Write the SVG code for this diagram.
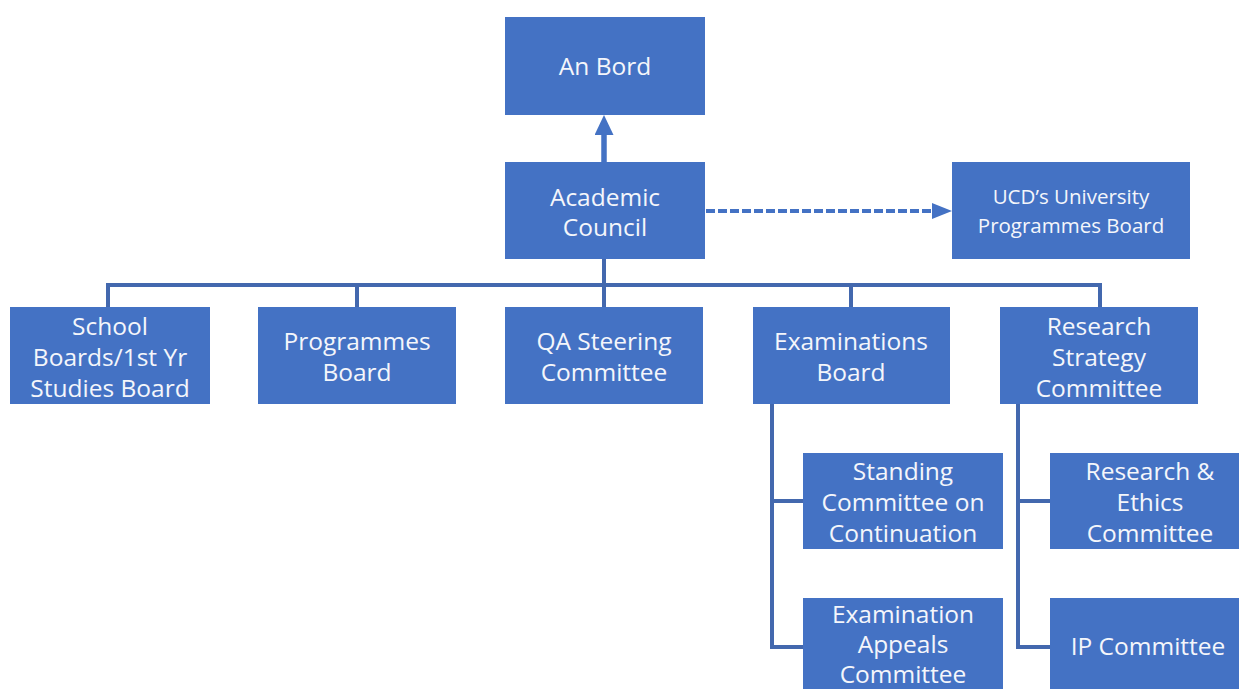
<svg xmlns="http://www.w3.org/2000/svg" width="1239" height="689" viewBox="0 0 1239 689">
<style>
.box{fill:#4472C4;}
.t{font-family:"Open Sans","Liberation Sans",sans-serif;font-size:24.5px;fill:#f4f6fb;text-anchor:middle;dominant-baseline:central;}
.s{font-size:20.5px;}
.ln{stroke:#4368ae;stroke-width:4;fill:none;}
</style>
<defs>
<marker id="ah" viewBox="0 0 20 19" refX="10" refY="9.5" markerWidth="20" markerHeight="19" orient="auto" markerUnits="userSpaceOnUse">
<path d="M0,0 L20,9.5 L0,19 Z" fill="#4472C4"/>
</marker>
<marker id="ah2" viewBox="0 0 20 16" refX="10" refY="8" markerWidth="20" markerHeight="16" orient="auto" markerUnits="userSpaceOnUse">
<path d="M0,0 L20,8 L0,16 Z" fill="#4472C4"/>
</marker>
</defs>
<rect width="1239" height="689" fill="#ffffff"/>
<g id="connectors">
<line x1="604" y1="162" x2="604" y2="125" stroke="#4472C4" stroke-width="5.5" marker-end="url(#ah)"/>
<line x1="706" y1="211" x2="942" y2="211" stroke="#4472C4" stroke-width="4" stroke-dasharray="9,3" marker-end="url(#ah2)"/>
<line class="ln" x1="604" y1="259" x2="604" y2="285"/>
<polyline class="ln" points="108,307 108,285 1100,285 1100,307"/>
<line class="ln" x1="357" y1="285" x2="357" y2="307"/>
<line class="ln" x1="604" y1="285" x2="604" y2="307"/>
<line class="ln" x1="851" y1="285" x2="851" y2="307"/>
<polyline class="ln" points="772,404 772,647 803,647"/>
<line class="ln" x1="772" y1="501" x2="803" y2="501"/>
<polyline class="ln" points="1018,404 1018,647 1050,647"/>
<line class="ln" x1="1018" y1="501" x2="1050" y2="501"/>
</g>
<g id="an-bord"><rect class="box" x="505" y="17" width="200" height="98"/><text class="t" x="605" y="65">An Bord</text></g>
<g id="academic-council"><rect class="box" x="505" y="162" width="200" height="97"/><text class="t" x="605" y="196">Academic</text><text class="t" x="605" y="226">Council</text></g>
<g id="ucd-upb"><rect class="box" x="952" y="162" width="238" height="97"/><text class="t s" x="1071" y="196">UCD’s University</text><text class="t s" x="1071" y="225">Programmes Board</text></g>
<g id="school-boards"><rect class="box" x="10" y="307" width="200" height="97"/><text class="t" x="110" y="325">School</text><text class="t" x="110" y="356">Boards/1st Yr</text><text class="t" x="110" y="387">Studies Board</text></g>
<g id="programmes-board"><rect class="box" x="258" y="307" width="198" height="97"/><text class="t" x="357" y="340">Programmes</text><text class="t" x="357" y="371">Board</text></g>
<g id="qa-steering"><rect class="box" x="505" y="307" width="198" height="97"/><text class="t" x="604" y="340">QA Steering</text><text class="t" x="604" y="371">Committee</text></g>
<g id="examinations-board"><rect class="box" x="753" y="307" width="197" height="97"/><text class="t" x="851" y="340">Examinations</text><text class="t" x="851" y="371">Board</text></g>
<g id="research-strategy"><rect class="box" x="1000" y="307" width="198" height="97"/><text class="t" x="1099" y="325">Research</text><text class="t" x="1099" y="356">Strategy</text><text class="t" x="1099" y="387">Committee</text></g>
<g id="standing-committee"><rect class="box" x="803" y="453" width="200" height="96"/><text class="t" x="903" y="470">Standing</text><text class="t" x="903" y="501">Committee on</text><text class="t" x="903" y="532">Continuation</text></g>
<g id="exam-appeals"><rect class="box" x="803" y="598" width="200" height="97"/><text class="t" x="903" y="613">Examination</text><text class="t" x="903" y="643">Appeals</text><text class="t" x="903" y="673">Committee</text></g>
<g id="research-ethics"><rect class="box" x="1050" y="453" width="200" height="96"/><text class="t" x="1150" y="470">Research &amp;</text><text class="t" x="1150" y="501">Ethics</text><text class="t" x="1150" y="532">Committee</text></g>
<g id="ip-committee"><rect class="box" x="1050" y="598" width="200" height="97"/><text class="t" x="1148" y="645">IP Committee</text></g>
</svg>
